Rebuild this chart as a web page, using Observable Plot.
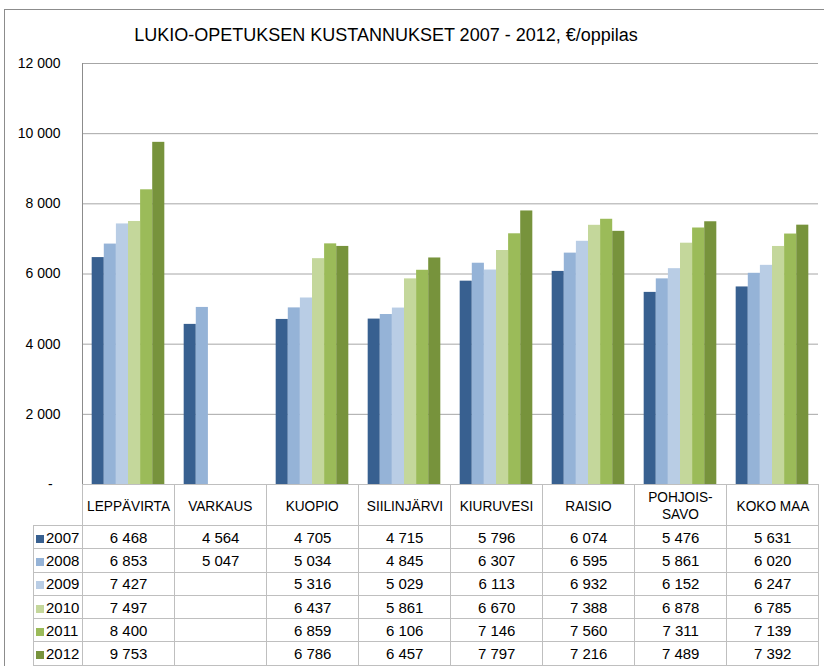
<!DOCTYPE html>
<html><head><meta charset="utf-8">
<script src="https://cdn.jsdelivr.net/npm/d3@7"></script>
<script src="https://cdn.jsdelivr.net/npm/@observablehq/plot@0.6"></script>
<style>
body{margin:0;background:#fff;}
#wrap{position:relative;width:824px;height:666px;overflow:hidden;font-family:"Liberation Sans",Arial,sans-serif;color:#000;}
#frame{position:absolute;left:4px;top:9px;width:840px;height:680px;border-left:1.5px solid #8c8c8c;border-top:1.5px solid #8c8c8c;}
#title{position:absolute;top:25px;left:0;width:772px;text-align:center;font-size:18px;}
#title span{display:inline-block;transform:scaleX(1.0);}
#chart{position:absolute;left:0;top:0;}
#tbl{position:absolute;left:33px;top:484px;border-collapse:collapse;font-size:15px;table-layout:fixed;}
#tbl td{border:1px solid #bfbfbf;text-align:center;padding:0;line-height:17px;white-space:nowrap;}
#tbl tr.head td{height:40px;}
#tbl tr.head td span{display:inline-block;transform:scaleX(0.91);}
#tbl tr.row td{height:22.3px;}
#tbl td.blank{border:none;border-right:1px solid #bfbfbf;}
#tbl td.key{text-align:left;padding-left:2px;}
.sw{display:inline-block;width:8px;height:8px;margin-right:2px;vertical-align:0px;}
</style></head>
<body>
<div id="wrap">
  <div id="frame"></div>
  <div id="title"><span></span></div>
  <div id="chart"></div>
  <table id="tbl"></table>
</div>
<script>
const chartTitle = "LUKIO-OPETUKSEN KUSTANNUKSET 2007 - 2012, €/oppilas";
const categories = ["LEPPÄVIRTA","VARKAUS","KUOPIO","SIILINJÄRVI","KIURUVESI","RAISIO","POHJOIS-SAVO","KOKO MAA"];
const categoryLabels = ["LEPPÄVIRTA","VARKAUS","KUOPIO","SIILINJÄRVI","KIURUVESI","RAISIO","POHJOIS-<br>SAVO","KOKO MAA"];
const years = ["2007","2008","2009","2010","2011","2012"];
const v2007 = [6468,4564,4705,4715,5796,6074,5476,5631];
const v2008 = [6853,5047,5034,4845,6307,6595,5861,6020];
const v2009 = [7427,null,5316,5029,6113,6932,6152,6247];
const v2010 = [7497,null,6437,5861,6670,7388,6878,6785];
const v2011 = [8400,null,6859,6106,7146,7560,7311,7139];
const v2012 = [9753,null,6786,6457,7797,7216,7489,7392];
const series = [v2007,v2008,v2009,v2010,v2011,v2012];
const colors = ["#386090","#95b3d7","#b9cde5","#c4d79b","#9bbb59","#77933c"];
const yTicks = [0,2000,4000,6000,8000,10000,12000];

const fmtNum = v => d3.format(",")(v).replace(/,/g, " ");
const fmtTick = v => v === 0 ? "-\u00a0\u00a0" : fmtNum(v);

document.querySelector("#title span").textContent = chartTitle;

const data = [];
years.forEach((yr, i) => series[i].forEach((v, j) => {
  if (v != null) data.push({cat: categories[j], year: yr, value: v});
}));

const font = '"Liberation Sans",Arial,sans-serif';
const chart = Plot.plot({
  width: 824, height: 490,
  marginTop: 63, marginLeft: 82, marginRight: 6, marginBottom: 6,
  style: {overflow: "visible", fontFamily: font, fontSize: "14px", background: "transparent", color: "#000"},
  fx: {domain: categories, padding: 0, axis: null},
  x: {domain: years, paddingInner: 0, paddingOuter: 0.8, round: false, axis: null},
  y: {domain: [0, 12000]},
  color: {domain: years, range: colors},
  marks: [
    Plot.gridY(yTicks, {stroke: "#a6a6a6", strokeOpacity: 1, strokeWidth: 1}),
    Plot.barY(data, {fx: "cat", x: "year", y: "value", fill: "year"}),
    Plot.axisY(yTicks, {tickSize: 0, tickPadding: 22, tickFormat: fmtTick, fill: "#000", label: null}),
    Plot.frame({anchor: "left", facetAnchor: "left", stroke: "#8c8c8c", strokeOpacity: 1})
  ]
});
document.getElementById("chart").appendChild(chart);

// data table below the chart
const tbl = document.getElementById("tbl");
const colgroup = document.createElement("colgroup");
const c0 = document.createElement("col"); c0.style.width = "49px"; colgroup.appendChild(c0);
categories.forEach(() => { const c = document.createElement("col"); c.style.width = "92px"; colgroup.appendChild(c); });
tbl.appendChild(colgroup);
let html = '<tr class="head"><td class="blank"></td>' + categoryLabels.map(c => `<td><span>${c}</span></td>`).join("") + "</tr>";
years.forEach((yr, i) => {
  html += `<tr class="row"><td class="key"><span class="sw" style="background:${colors[i]}"></span>${yr}</td>` +
    series[i].map(v => `<td>${v == null ? "" : fmtNum(v)}</td>`).join("") + "</tr>";
});
tbl.insertAdjacentHTML("beforeend", html);
</script>
</body></html>
